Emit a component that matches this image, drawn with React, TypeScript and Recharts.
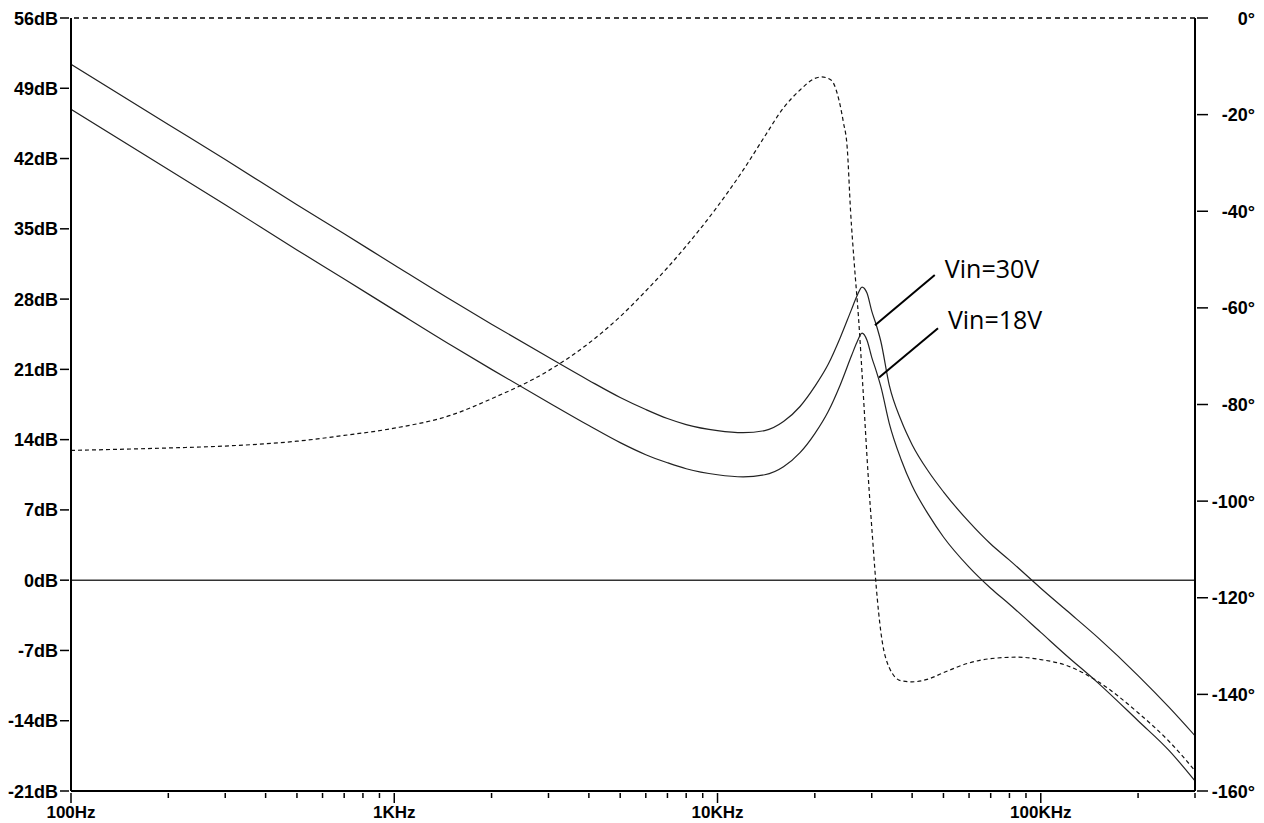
import React from 'react';
import { LineChart, Line, XAxis, YAxis, ReferenceLine, ReferenceDot } from 'recharts';

// gain traces (dB) sampled on a log frequency grid
const magFreq = [100, 200, 300, 500, 700, 1000, 1500, 2000, 3000, 4000, 5000, 6000, 7000, 8000, 10000, 12000, 14000, 16000, 18000, 20000, 22000, 24000, 26000, 27000, 28000, 29000, 30000, 31000, 32000, 34000, 37000, 40000, 45000, 50000, 60000, 70000, 80000, 100000, 120000, 150000, 200000, 250000, 300000];
const gainVin30 = [51.4, 45.4, 41.9, 37.4, 34.5, 31.4, 27.9, 25.5, 22.2, 19.9, 18.2, 17.0, 16.1, 15.5, 14.9, 14.7, 14.9, 15.8, 17.3, 19.3, 21.5, 24.2, 27.0, 28.3, 29.2, 28.6, 26.8, 25.4, 23.8, 19.4, 15.9, 13.5, 10.8, 8.8, 5.8, 3.6, 2.0, -0.8, -3.0, -5.7, -9.5, -12.7, -15.5];
const gainVin18 = [46.9, 40.9, 37.4, 32.9, 30.0, 26.9, 23.4, 21.0, 17.7, 15.4, 13.7, 12.5, 11.7, 11.1, 10.5, 10.3, 10.5, 11.3, 12.7, 14.6, 16.8, 19.5, 22.4, 23.7, 24.6, 23.9, 22.2, 20.8, 19.3, 15.6, 12.0, 9.4, 6.5, 4.3, 1.3, -0.8, -2.4, -5.2, -7.5, -10.2, -14.0, -17.0, -20.0];

// phase trace (deg)
const phaseFreq = [100, 200, 300, 500, 700, 1000, 1500, 2000, 3000, 4000, 5000, 6000, 7000, 8000, 10000, 12000, 14000, 16000, 18000, 20000, 21000, 22500, 23500, 24500, 25200, 25800, 26500, 27300, 28200, 29200, 30200, 31000, 32000, 34000, 37000, 40000, 45000, 50000, 60000, 70000, 85000, 100000, 120000, 150000, 200000, 250000, 300000];
const phaseDeg = [-89.5, -89.0, -88.6, -87.6, -86.4, -84.9, -82.2, -78.8, -73.0, -67.3, -61.8, -56.5, -51.7, -47.2, -39.0, -31.5, -24.5, -18.6, -14.9, -12.5, -12.2, -12.9, -15.8, -21.5, -27, -40, -51, -62, -77, -94, -108, -118, -127, -134.5, -137.2, -137.4, -136.8, -135.5, -133.5, -132.6, -132.3, -132.8, -134.0, -137.3, -143.8, -149.8, -155.8];

const dbTicks = [-21, -14, -7, 0, 7, 14, 21, 28, 35, 42, 49, 56];
const degTicks = [-160, -140, -120, -100, -80, -60, -40, -20, 0];
const majorFreqs = [100, 1000, 10000, 100000];
const majorLabels = ['100Hz', '1KHz', '10KHz', '100KHz'];
const minorMult = [2, 3, 4, 5, 6, 7, 8, 9];

const freqTicks: number[] = [];
majorFreqs.forEach((d) => {
  freqTicks.push(d);
  minorMult.forEach((m) => {
    if (d * m <= 300000) freqTicks.push(d * m);
  });
});

const vin30Data = magFreq.map((f, i) => ({ f, g: gainVin30[i] }));
const vin18Data = magFreq.map((f, i) => ({ f, g: gainVin18[i] }));
const phaseData = phaseFreq.map((f, i) => ({ f, p: phaseDeg[i] }));

const FONT = '"Liberation Sans", Arial, sans-serif';

const LeftTick = (props: any) => {
  const { x, y, payload } = props;
  return (
    <g>
      <line x1={x - 9} x2={x} y1={y} y2={y} stroke="#000" strokeWidth={1.5} />
      <text x={x - 11} y={y + 6.5} textAnchor="end" fontFamily={FONT} fontWeight="bold" fontSize={18} fill="#000">
        {payload.value}dB
      </text>
    </g>
  );
};

const RightTick = (props: any) => {
  const { x, y, payload } = props;
  return (
    <g>
      <line x1={x} x2={x + 11} y1={y} y2={y} stroke="#000" strokeWidth={1.5} />
      <text x={x + 58} y={y + 6.5} textAnchor="end" fontFamily={FONT} fontWeight="bold" fontSize={18} fill="#000">
        {payload.value}°
      </text>
    </g>
  );
};

const BottomTick = (props: any) => {
  const { x, y, payload } = props;
  const idx = majorFreqs.indexOf(payload.value);
  const major = idx >= 0;
  return (
    <g>
      <line x1={x} x2={x} y1={y} y2={y + (major ? 10 : 5)} stroke="#000" strokeWidth={1.5} />
      {major && (
        <text x={x} y={y + 25} textAnchor="middle" fontFamily={FONT} fontWeight="bold" fontSize={17} fill="#000">
          {majorLabels[idx]}
        </text>
      )}
    </g>
  );
};

const noteLabel = (txt: string) => (props: any) => (
  <text x={props.cx} y={props.cy} fontFamily='"Open Sans", "Noto Sans", sans-serif' fontSize={25} fill="#000">
    {txt}
  </text>
);

export default function App() {
  return (
    <div style={{ position: 'absolute', left: 0, top: 0, background: '#fff' }}>
      <LineChart width={1264} height={823} margin={{ top: 18, right: 0, bottom: 0, left: 0 }}>
        <XAxis
          dataKey="f"
          type="number"
          scale="log"
          domain={[100, 300000]}
          ticks={freqTicks}
          interval={0}
          allowDataOverflow
          height={32}
          tickSize={0}
          tickLine={false}
          axisLine={{ stroke: '#000', strokeWidth: 2 }}
          tick={<BottomTick />}
        />
        <YAxis
          yAxisId="db"
          type="number"
          domain={[-21, 56]}
          ticks={dbTicks}
          interval={0}
          width={71}
          tickSize={0}
          tickLine={false}
          axisLine={{ stroke: '#000', strokeWidth: 2 }}
          tick={<LeftTick />}
        />
        <YAxis
          yAxisId="ph"
          orientation="right"
          type="number"
          domain={[-160, 0]}
          ticks={degTicks}
          interval={0}
          width={69}
          tickSize={0}
          tickLine={false}
          axisLine={{ stroke: '#000', strokeWidth: 2 }}
          tick={<RightTick />}
        />
        <ReferenceLine yAxisId="ph" y={0} stroke="#000" strokeWidth={1.3} strokeDasharray="5 4" />
        <ReferenceLine yAxisId="db" y={0} stroke="#333" strokeWidth={1.6} />
        <Line data={phaseData} dataKey="p" yAxisId="ph" type="monotone" stroke="#111" strokeWidth={1.2} strokeDasharray="4 3" dot={false} isAnimationActive={false} />
        <Line data={vin30Data} dataKey="g" yAxisId="db" type="monotone" stroke="#222" strokeWidth={1.2} dot={false} isAnimationActive={false} />
        <Line data={vin18Data} dataKey="g" yAxisId="db" type="monotone" stroke="#222" strokeWidth={1.2} dot={false} isAnimationActive={false} />
        <ReferenceLine yAxisId="db" segment={[{ x: 47000, y: 30.4 }, { x: 30700, y: 25.4 }]} stroke="#000" strokeWidth={2} />
        <ReferenceLine yAxisId="db" segment={[{ x: 48100, y: 25.1 }, { x: 31600, y: 20.2 }]} stroke="#000" strokeWidth={2} />
        <ReferenceDot yAxisId="db" x={50500} y={30.1} r={0} shape={noteLabel('Vin=30V')} />
        <ReferenceDot yAxisId="db" x={51600} y={25.0} r={0} shape={noteLabel('Vin=18V')} />
      </LineChart>
    </div>
  );
}
